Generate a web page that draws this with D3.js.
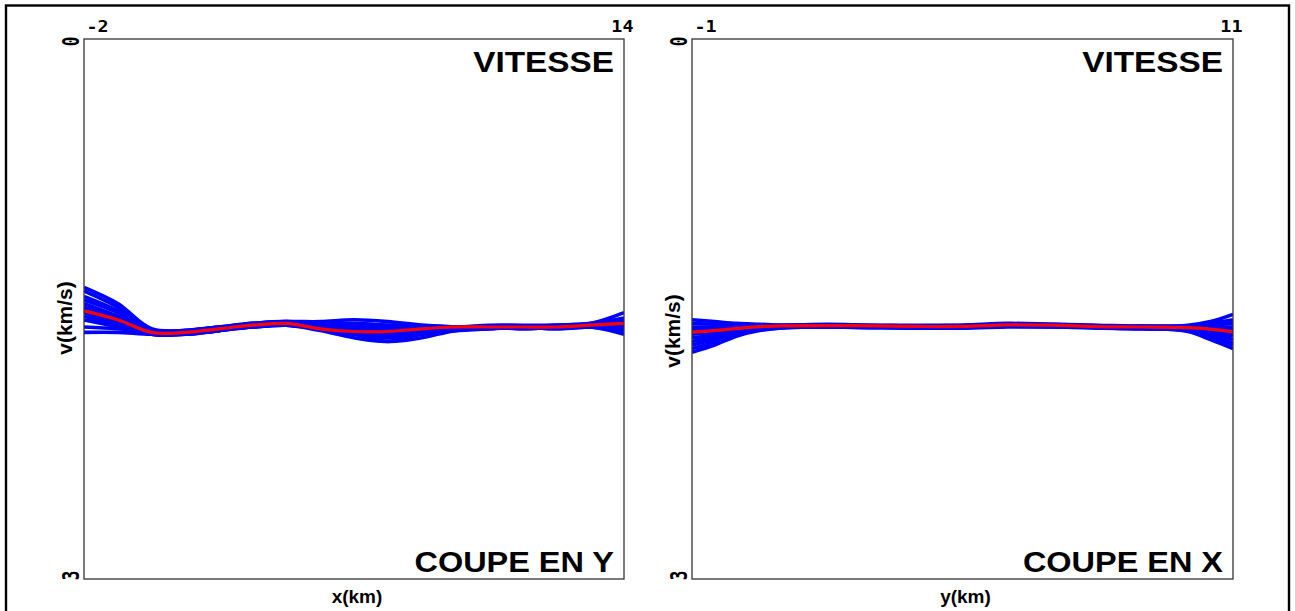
<!DOCTYPE html>
<html><head><meta charset="utf-8">
<script src="https://cdnjs.cloudflare.com/ajax/libs/d3/7.8.5/d3.min.js"></script>
<style>body{margin:0;background:#fff}svg{display:block}</style>
</head><body><svg id="c" width="1295" height="611"></svg>
<script>
// ---------- data ----------
const vDomain = [0, 3];
const vTickLabels = ["0", "3"];
const xDomainL = [-2, 14];
const xTickLabelsL = ["-2", "14"];
const xDomainR = [-1, 11];
const xTickLabelsR = ["-1", "11"];

// left panel (section along x, "COUPE EN Y")
const xKmL = [-2,-1,0,1,2,3,4,5,6,7,8,9,10,11,12,13,14];
const redL = [1.51,1.56,1.63,1.63,1.61,1.59,1.58,1.61,1.625,1.625,1.61,1.60,1.60,1.60,1.60,1.59,1.58];
const blueL = [
 [1.38,1.47,1.61,1.62,1.60,1.58,1.57,1.57,1.56,1.57,1.59,1.60,1.59,1.59,1.59,1.58,1.52],
 [1.40,1.49,1.62,1.63,1.61,1.58,1.57,1.58,1.58,1.59,1.61,1.60,1.60,1.60,1.59,1.58,1.55],
 [1.43,1.51,1.62,1.64,1.62,1.59,1.58,1.59,1.61,1.62,1.61,1.60,1.60,1.60,1.60,1.59,1.56],
 [1.45,1.52,1.63,1.62,1.60,1.59,1.58,1.60,1.63,1.65,1.63,1.61,1.60,1.60,1.60,1.60,1.58],
 [1.47,1.54,1.63,1.63,1.61,1.60,1.59,1.61,1.64,1.68,1.66,1.62,1.61,1.60,1.61,1.60,1.59],
 [1.49,1.55,1.64,1.63,1.61,1.59,1.58,1.60,1.62,1.61,1.60,1.60,1.60,1.61,1.60,1.59,1.60],
 [1.50,1.57,1.64,1.64,1.62,1.60,1.59,1.61,1.63,1.64,1.62,1.61,1.61,1.60,1.60,1.60,1.61],
 [1.52,1.58,1.62,1.62,1.60,1.58,1.57,1.60,1.61,1.62,1.61,1.60,1.60,1.60,1.59,1.59,1.62],
 [1.54,1.59,1.63,1.63,1.61,1.59,1.58,1.61,1.64,1.66,1.64,1.61,1.60,1.61,1.60,1.60,1.63],
 [1.56,1.60,1.64,1.64,1.62,1.60,1.59,1.62,1.66,1.68,1.64,1.62,1.61,1.60,1.61,1.60,1.64],
 [1.60,1.61,1.63,1.62,1.61,1.59,1.58,1.58,1.59,1.59,1.59,1.60,1.60,1.60,1.60,1.60,1.60],
 [1.63,1.63,1.64,1.63,1.61,1.59,1.58,1.59,1.60,1.61,1.60,1.60,1.60,1.60,1.60,1.59,1.57]
];

// right panel (section along y, "COUPE EN X")
const yKmR = [-1,-0.5,0,0.5,1,2,3,4,5,6,7,8,9,10,10.5,11];
const redR = [1.628,1.62,1.608,1.598,1.594,1.592,1.594,1.597,1.597,1.588,1.590,1.598,1.600,1.604,1.612,1.627];
const blueR = [
 [1.56,1.57,1.58,1.585,1.59,1.585,1.59,1.59,1.59,1.58,1.585,1.59,1.595,1.59,1.57,1.53],
 [1.58,1.585,1.59,1.59,1.59,1.59,1.59,1.595,1.59,1.585,1.585,1.595,1.595,1.595,1.58,1.56],
 [1.60,1.60,1.60,1.595,1.59,1.59,1.595,1.60,1.60,1.59,1.59,1.60,1.60,1.60,1.59,1.58],
 [1.61,1.61,1.605,1.60,1.595,1.595,1.60,1.60,1.60,1.59,1.59,1.60,1.60,1.60,1.60,1.60],
 [1.62,1.615,1.61,1.60,1.595,1.59,1.595,1.60,1.595,1.585,1.59,1.595,1.60,1.605,1.61,1.61],
 [1.63,1.625,1.61,1.60,1.60,1.595,1.595,1.60,1.60,1.59,1.595,1.60,1.60,1.605,1.615,1.62],
 [1.64,1.63,1.615,1.605,1.60,1.60,1.60,1.605,1.605,1.595,1.595,1.60,1.605,1.61,1.62,1.64],
 [1.66,1.645,1.62,1.605,1.60,1.595,1.60,1.60,1.60,1.59,1.59,1.60,1.605,1.61,1.625,1.65],
 [1.68,1.66,1.63,1.61,1.60,1.60,1.60,1.605,1.60,1.595,1.595,1.605,1.61,1.615,1.635,1.67],
 [1.70,1.67,1.635,1.61,1.60,1.60,1.60,1.60,1.605,1.60,1.60,1.605,1.61,1.62,1.65,1.69],
 [1.72,1.685,1.64,1.615,1.605,1.60,1.605,1.605,1.60,1.595,1.60,1.605,1.61,1.62,1.66,1.70],
 [1.74,1.70,1.65,1.62,1.605,1.60,1.60,1.605,1.605,1.595,1.595,1.60,1.605,1.625,1.67,1.72]
];

const panels = [
  {id:"L", xDomain:xDomainL, xRange:[84,624], xTicks:xTickLabelsL, xs:xKmL, red:redL, blues:blueL,
   xLabel:"x(km)", cut:"COUPE EN Y", vLabelY:318},
  {id:"R", xDomain:xDomainR, xRange:[692,1233], xTicks:xTickLabelsR, xs:yKmR, red:redR, blues:blueR,
   xLabel:"y(km)", cut:"COUPE EN X", vLabelY:331}
];

// ---------- drawing ----------
const svg = d3.select("#c");
svg.append("rect").attr("x",6).attr("y",5.5).attr("width",1283).attr("height",640)
  .attr("fill","none").attr("stroke","#000").attr("stroke-width",2.4);

const y = d3.scaleLinear().domain(vDomain).range([39,579]);
const defs = svg.append("defs");
const sans = "'Liberation Sans', Arial, Helvetica, sans-serif";
const mono = "'DejaVu Sans Mono', 'Liberation Mono', monospace";

panels.forEach(p => {
  const x = d3.scaleLinear().domain(p.xDomain).range(p.xRange);
  const g = svg.append("g");
  defs.append("clipPath").attr("id","clip"+p.id).append("rect")
    .attr("x",p.xRange[0]).attr("y",39).attr("width",p.xRange[1]-p.xRange[0]).attr("height",540);

  const line = d3.line().x((d,i)=>x(p.xs[i])).y(d=>y(d)).curve(d3.curveCatmullRom.alpha(0.5));
  const lines = g.append("g").attr("clip-path","url(#clip"+p.id+")");
  lines.selectAll("path.blue").data(p.blues).join("path").attr("class","blue")
    .attr("d",line).attr("fill","none").attr("stroke","#0000ff").attr("stroke-width",3.6)
    .attr("stroke-linejoin","round");
  lines.append("path").datum(p.red).attr("d",line).attr("fill","none")
    .attr("stroke","#ff0000").attr("stroke-width",3.2);

  // frame
  g.append("rect").attr("x",p.xRange[0]).attr("y",39).attr("width",p.xRange[1]-p.xRange[0])
    .attr("height",540).attr("fill","none").attr("stroke","#333").attr("stroke-width",1.3);

  // top axis: first and last tick labels only
  const xt = p.xTicks.map(Number);
  const axT = g.append("g").attr("transform","translate(0,39)")
    .call(d3.axisTop(x).tickValues(xt).tickSize(0).tickFormat((d,i)=>p.xTicks[i]));
  axT.select(".domain").remove();
  axT.selectAll("text").each(function(d,i){
    const t = d3.select(this);
    t.attr("y",null).attr("dy",null)
     .attr("text-anchor", i===0 ? "start" : "end")
     .attr("transform", i===0 ? "translate(2,-7) scale(1.15,1)" : "translate(9,-7) scale(1.15,1)")
     .attr("font-family",mono).attr("font-weight","bold")
     .attr("font-size",16).attr("fill","#000");
  });

  // left axis: 0 and 3, rotated
  const axL = g.append("g").attr("transform","translate("+p.xRange[0]+",0)")
    .call(d3.axisLeft(y).tickValues(vDomain).tickSize(0).tickFormat((d,i)=>vTickLabels[i]));
  axL.select(".domain").remove();
  axL.selectAll("text").each(function(d,i){
    d3.select(this).attr("x",null).attr("text-anchor","middle")
     .attr("transform","translate(-13,"+(i===0?2:-4)+") scale(1.45,1) rotate(-90)")
     .attr("dy","0.35em")
     .attr("font-family",mono).attr("font-weight","bold")
     .attr("font-size",16).attr("fill","#000");
  });

  const cx = (p.xRange[0]+p.xRange[1])/2;
  // axis titles
  g.append("text").attr("x",cx+3).attr("y",603).attr("text-anchor","middle")
    .attr("font-family",sans).attr("font-weight","bold")
    .attr("font-size",19).text(p.xLabel);
  g.append("text").attr("transform","translate("+(p.xRange[0]-12)+","+p.vLabelY+") rotate(-90)")
    .attr("text-anchor","middle")
    .attr("font-family",sans).attr("font-weight","bold")
    .attr("font-size",21).text("v(km/s)");

  // in-plot titles
  g.append("text").attr("transform","translate("+(p.xRange[1]-10)+",72) scale(1.13,1)")
    .attr("text-anchor","end")
    .attr("font-family",sans).attr("font-weight","bold")
    .attr("font-size",29.5).text("VITESSE");
  g.append("text").attr("transform","translate("+(p.xRange[1]-10)+",572) scale(1.1,1)")
    .attr("text-anchor","end")
    .attr("font-family",sans).attr("font-weight","bold")
    .attr("font-size",29.5).text(p.cut);
});
</script></body></html>
